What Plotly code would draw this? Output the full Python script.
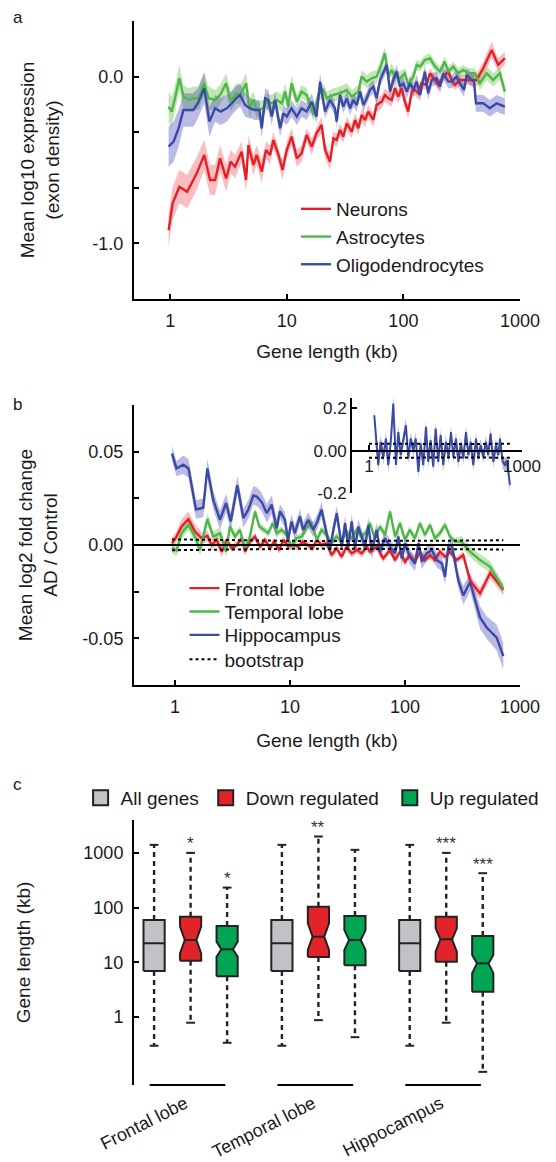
import math
import plotly.graph_objects as go

W, H = 556, 1162
FONT = "Liberation Sans, Arial, Helvetica, sans-serif"
INK = "#1a1a1a"

# ---------------- panel a : expression vs gene length ----------------
a_neu_x = [0.97, 1.05, 1.2, 1.4, 1.69, 1.96, 2.2, 2.43, 2.68, 3.02,
           3.31, 3.6, 4.1, 4.48, 4.69, 5.18, 5.53, 6.1, 6.64, 7.19,
           7.68, 8.5, 9.2, 10.0, 11.0, 12.2, 13.4, 14.8, 16.4, 18.0,
           19.9, 21.3, 23.5, 25.1, 26.8, 28.6, 30.5, 32.7, 36.1, 38.5,
           41.1, 43.9, 46.9, 50.0, 55.2, 59.0, 65.2, 69.5, 74.3, 79.4,
           84.7, 90.4, 96.7, 103, 110, 118, 126, 134, 143, 158,
           169, 187, 199, 220, 243, 259, 277, 305, 337, 372,
           425, 484, 571, 650, 742]
a_neu_y = [-0.92, -0.76, -0.66, -0.69, -0.58, -0.47, -0.62, -0.62, -0.49, -0.61,
           -0.51, -0.54, -0.45, -0.62, -0.41, -0.53, -0.47, -0.57, -0.44, -0.47,
           -0.38, -0.47, -0.56, -0.44, -0.36, -0.49, -0.46, -0.35, -0.42, -0.34,
           -0.29, -0.44, -0.51, -0.37, -0.38, -0.32, -0.36, -0.28, -0.33, -0.26,
           -0.31, -0.23, -0.26, -0.21, -0.26, -0.17, -0.15, -0.11, -0.13, -0.14,
           -0.07, -0.12, -0.07, -0.15, -0.21, -0.09, -0.08, -0.10, -0.04, -0.05,
           0.02, -0.02, -0.05, 0.0, 0.03, -0.02, -0.05, -0.02, -0.02, -0.02,
           -0.02, 0.05, 0.16, 0.07, 0.11]
a_neu_ci = [0.10, 0.10, 0.10, 0.10, 0.10, 0.09, 0.09, 0.09, 0.08, 0.08,
            0.07, 0.07, 0.06, 0.07, 0.06, 0.06, 0.06, 0.07, 0.05, 0.06,
            0.05, 0.05, 0.06, 0.05, 0.05, 0.05, 0.05, 0.04, 0.05, 0.04,
            0.05, 0.05, 0.05, 0.04, 0.04, 0.04, 0.04, 0.04, 0.04, 0.04,
            0.04, 0.04, 0.04, 0.04, 0.04, 0.04, 0.04, 0.04, 0.04, 0.04,
            0.04, 0.04, 0.04, 0.04, 0.04, 0.04, 0.03, 0.04, 0.03, 0.03,
            0.03, 0.03, 0.03, 0.03, 0.03, 0.03, 0.03, 0.03, 0.03, 0.03,
            0.04, 0.04, 0.05, 0.04, 0.04]

a_ast_x = [0.97, 1.03, 1.10, 1.20, 1.30, 1.44, 1.58, 1.75, 1.96, 2.13,
           2.43, 2.68, 3.02, 3.31, 3.68, 3.98, 4.48, 4.78, 5.18, 5.53,
           6.3, 6.74, 7.43, 8.2, 9.06, 9.7, 10.3, 11.0, 12.2, 13.4,
           14.8, 16.9, 18.7, 20.6, 22.0, 25.1, 28.6, 32.7, 36.1, 41.1,
           43.9, 48.5, 53.5, 59.0, 63.1, 69.5, 74.3, 79.4, 84.7, 93.5,
           103, 110, 122, 130, 139, 153, 169, 187, 206, 226,
           243, 268, 295, 326, 360, 408, 453, 517, 589, 672,
           742]
a_ast_y = [-0.18, -0.21, -0.13, -0.01, -0.12, -0.14, -0.13, -0.13, -0.04, -0.13,
           -0.14, -0.11, -0.04, -0.15, -0.10, -0.11, -0.04, -0.19, -0.14, -0.20,
           -0.19, -0.15, -0.16, -0.14, -0.16, -0.09, -0.18, -0.04, -0.15, -0.09,
           -0.11, -0.23, -0.11, -0.08, -0.13, -0.11, -0.10, -0.08, -0.12, -0.09,
           0.0, -0.03, -0.01, 0.0, 0.05, 0.14, 0.0, 0.04, 0.0, -0.01,
           0.02, -0.05, 0.0, 0.07, 0.06, 0.10, 0.11, 0.06, 0.03, 0.09,
           0.03, 0.06, 0.02, 0.04, 0.02, 0.02, -0.04, 0.02, -0.02, 0.02,
           -0.09]
a_ast_ci = [0.09, 0.09, 0.08, 0.08, 0.07, 0.07, 0.07, 0.07, 0.07, 0.07,
            0.06, 0.06, 0.06, 0.06, 0.06, 0.06, 0.06, 0.06, 0.05, 0.05,
            0.05, 0.05, 0.05, 0.05, 0.05, 0.05, 0.05, 0.05, 0.04, 0.04,
            0.04, 0.04, 0.04, 0.04, 0.04, 0.04, 0.04, 0.04, 0.04, 0.04,
            0.04, 0.04, 0.04, 0.04, 0.04, 0.04, 0.04, 0.04, 0.04, 0.04,
            0.03, 0.03, 0.04, 0.03, 0.03, 0.03, 0.03, 0.03, 0.03, 0.03,
            0.03, 0.03, 0.03, 0.03, 0.03, 0.03, 0.04, 0.04, 0.04, 0.04,
            0.04]

a_oli_x = [0.97, 1.07, 1.18, 1.30, 1.44, 1.58, 1.73, 1.96, 2.17, 2.43,
           2.70, 3.06, 3.38, 3.68, 3.98, 4.39, 4.85, 5.35, 5.82, 6.10,
           6.52, 6.95, 7.43, 7.94, 8.77, 9.35, 10.0, 11.0, 12.2, 13.4,
           14.8, 16.4, 18.0, 19.3, 21.3, 23.5, 25.9, 26.8, 28.6, 30.5,
           32.7, 34.9, 37.2, 39.8, 42.5, 45.4, 48.5, 51.7, 55.2, 59.0,
           63.1, 67.3, 72.0, 76.8, 81.9, 87.6, 93.5, 99.8, 107, 114,
           122, 130, 139, 153, 163, 175, 193, 206, 220, 243,
           259, 286, 305, 331, 349, 385, 404, 419, 484, 552,
           630, 742]
a_oli_y = [-0.42, -0.39, -0.31, -0.20, -0.20, -0.20, -0.16, -0.07, -0.27, -0.19,
           -0.21, -0.19, -0.16, -0.13, -0.11, -0.17, -0.19, -0.20, -0.20, -0.31,
           -0.13, -0.14, -0.24, -0.14, -0.31, -0.22, -0.24, -0.19, -0.24, -0.19,
           -0.21, -0.15, -0.24, -0.03, -0.21, -0.14, -0.19, -0.27, -0.11, -0.18,
           -0.13, -0.19, -0.14, -0.17, -0.09, -0.17, -0.13, -0.08, -0.06, -0.13,
           -0.02, 0.02, 0.07, -0.09, -0.02, 0.03, -0.06, -0.04, -0.09, -0.04,
           -0.08, -0.03, -0.11, 0.03, -0.10, -0.02, -0.01, -0.06, 0.02, -0.03,
           -0.03, 0.0, -0.04, -0.08, 0.01, -0.02, -0.03, -0.16, -0.16, -0.19,
           -0.16, -0.18]
a_oli_ci = [0.12, 0.12, 0.11, 0.10, 0.10, 0.10, 0.09, 0.09, 0.09, 0.08,
            0.08, 0.08, 0.07, 0.07, 0.07, 0.07, 0.06, 0.06, 0.06, 0.06,
            0.06, 0.06, 0.05, 0.05, 0.05, 0.05, 0.05, 0.05, 0.05, 0.05,
            0.05, 0.05, 0.04, 0.05, 0.04, 0.04, 0.04, 0.04, 0.04, 0.04,
            0.04, 0.04, 0.04, 0.04, 0.04, 0.04, 0.04, 0.04, 0.04, 0.04,
            0.04, 0.04, 0.04, 0.04, 0.04, 0.04, 0.04, 0.04, 0.04, 0.04,
            0.04, 0.04, 0.04, 0.04, 0.04, 0.04, 0.04, 0.04, 0.04, 0.04,
            0.04, 0.04, 0.04, 0.04, 0.04, 0.04, 0.04, 0.05, 0.05, 0.05,
            0.05, 0.05]

# ---------------- panel b : AD / control fold change ----------------
b_fro_x = [0.94, 1.03, 1.14, 1.31, 1.49, 1.71, 1.91, 2.08, 2.30, 2.55,
           2.81, 3.11, 3.44, 3.80, 4.06, 4.48, 4.96, 5.48, 6.06, 6.70,
           7.26, 8.07, 8.75, 9.67, 10.7, 11.8, 12.9, 14.1, 15.7, 17.1,
           18.8, 20.8, 23.0, 25.4, 28.1, 31.0, 34.4, 38.0, 42.0, 46.4,
           49.6, 56.7, 64.6, 74.1, 81.9, 90.5, 100, 110, 122, 135,
           149, 165, 182, 201, 223, 246, 281, 321, 368, 449,
           550, 716]
b_fro_y = [0.0009, 0.0045, 0.0099, 0.0139, 0.0072, 0.0036, 0.0049, 0.0, 0.0027, -0.0036,
           0.0027, -0.0018, 0.0, 0.0036, -0.0036, 0.0018, 0.0045, -0.0009, 0.0027, -0.0018,
           0.0018, -0.0027, 0.0027, -0.0009, 0.0, -0.0009, 0.0018, 0.0, -0.0018, 0.0027,
           0.0, 0.0009, -0.0054, -0.0018, -0.0063, -0.0009, -0.0045, -0.0027, -0.0045, -0.0009,
           -0.0036, -0.0009, -0.0072, -0.0027, -0.0081, -0.0036, -0.0090, -0.0054, -0.0090, -0.0036,
           -0.0081, -0.0054, -0.0081, -0.0036, -0.0063, -0.0036, -0.0081, -0.0054, -0.0190, -0.0260,
           -0.0150, -0.0240]
b_fro_ci = [0.003, 0.003, 0.004, 0.004, 0.004, 0.003, 0.003, 0.003, 0.003, 0.003,
            0.002, 0.002, 0.002, 0.002, 0.002, 0.002, 0.002, 0.002, 0.002, 0.002,
            0.002, 0.002, 0.002, 0.002, 0.002, 0.002, 0.002, 0.002, 0.002, 0.002,
            0.002, 0.002, 0.002, 0.002, 0.002, 0.002, 0.002, 0.002, 0.002, 0.002,
            0.002, 0.002, 0.002, 0.002, 0.002, 0.002, 0.002, 0.002, 0.002, 0.002,
            0.002, 0.002, 0.002, 0.002, 0.002, 0.002, 0.002, 0.002, 0.003, 0.003,
            0.003, 0.003]

b_tem_x = [0.94, 1.03, 1.14, 1.31, 1.49, 1.65, 1.91, 2.15, 2.46, 2.78,
           3.0, 3.32, 3.67, 4.06, 4.48, 4.96, 5.41, 5.86, 6.47, 7.07,
           7.65, 8.46, 9.35, 10.3, 11.4, 12.6, 13.9, 15.4, 17.1, 18.8,
           20.8, 23.0, 25.4, 28.1, 31.0, 34.4, 38.0, 42.0, 46.4, 49.6,
           54.6, 60.6, 67.0, 74.1, 81.9, 90.5, 100, 110, 122, 135,
           149, 165, 182, 201, 223, 246, 272, 310, 368, 449,
           550, 716]
b_tem_y = [-0.0015, -0.0030, 0.0063, 0.0108, 0.0045, -0.0027, 0.0139, 0.0045, 0.0063, -0.0036,
           0.0099, 0.0045, 0.0081, -0.0018, 0.0045, 0.0180, 0.0099, 0.0081, 0.0063, 0.0117,
           0.0063, 0.0081, 0.0054, -0.0009, 0.0036, 0.0045, 0.0090, 0.0117, 0.0027, 0.0081,
           0.0054, 0.0009, 0.0045, 0.0018, 0.0072, 0.0036, 0.0081, 0.0045, 0.0072, 0.0117,
           0.0036, 0.0099, 0.0054, 0.0180, 0.0045, 0.0117, 0.0027, 0.0081, 0.0036, 0.0117,
           0.0054, 0.0108, 0.0036, 0.0063, 0.0108, 0.0045, 0.0018, 0.0018, -0.0036, -0.0081,
           -0.0117, -0.0234]
b_tem_ci = [0.003, 0.003, 0.003, 0.003, 0.003, 0.003, 0.003, 0.003, 0.003, 0.003,
            0.002, 0.002, 0.002, 0.002, 0.002, 0.002, 0.002, 0.002, 0.002, 0.002,
            0.002, 0.002, 0.002, 0.002, 0.002, 0.002, 0.002, 0.002, 0.002, 0.002,
            0.002, 0.002, 0.002, 0.002, 0.002, 0.002, 0.002, 0.002, 0.002, 0.002,
            0.002, 0.002, 0.002, 0.002, 0.002, 0.002, 0.002, 0.002, 0.002, 0.002,
            0.002, 0.002, 0.002, 0.002, 0.002, 0.002, 0.002, 0.003, 0.003, 0.003,
            0.003, 0.003]

b_hip_x = [0.94, 1.03, 1.18, 1.31, 1.52, 1.76, 1.91, 2.15, 2.46, 2.78,
           3.05, 3.48, 3.93, 4.34, 4.79, 5.13, 5.67, 6.28, 6.93, 7.65,
           8.17, 9.03, 9.6, 10.3, 11.0, 12.2, 13.0, 14.4, 15.9, 17.3,
           18.8, 20.8, 22.3, 23.8, 25.5, 28.2, 30.1, 32.1, 34.4, 36.7,
           39.3, 42.0, 44.9, 48.0, 51.3, 56.7, 60.6, 67.0, 74.1, 81.9,
           87.5, 93.6, 100, 110, 122, 131, 140, 154, 171, 189,
           209, 223, 238, 255, 272, 291, 321, 368, 449, 513,
           627, 716]
b_hip_y = [0.049, 0.041, 0.043, 0.041, 0.019, 0.020, 0.041, 0.024, 0.0135, 0.0225,
           0.0126, 0.032, 0.0144, 0.019, 0.0265, 0.026, 0.023, 0.017, 0.0216, 0.009,
           0.018, 0.0135, 0.0027, 0.0126, 0.0063, 0.0153, 0.0081, 0.0135, 0.0081, 0.0126,
           0.019, 0.0063, -0.0027, 0.0081, 0.017, -0.0009, 0.0117, -0.001, 0.0126, -0.0018,
           0.0099, 0.0045, -0.0009, 0.0108, -0.0036, 0.0081, -0.0036, 0.0036, -0.0009, -0.0045,
           0.0045, -0.0072, 0.0009, -0.0063, -0.0099, 0.0009, -0.009, -0.0045, -0.0027, -0.0081,
           -0.0099, -0.0171, -0.0009, 0.0, -0.0099, -0.019, -0.027, -0.0198, -0.0388, -0.0442,
           -0.0496, -0.0595]
b_hip_ci = [0.004, 0.004, 0.005, 0.005, 0.005, 0.005, 0.005, 0.005, 0.005, 0.005,
            0.005, 0.005, 0.005, 0.005, 0.005, 0.005, 0.005, 0.005, 0.005, 0.005,
            0.004, 0.004, 0.004, 0.004, 0.004, 0.004, 0.004, 0.004, 0.004, 0.004,
            0.004, 0.004, 0.004, 0.004, 0.004, 0.004, 0.004, 0.004, 0.004, 0.004,
            0.004, 0.004, 0.004, 0.004, 0.004, 0.004, 0.004, 0.004, 0.004, 0.004,
            0.004, 0.004, 0.004, 0.004, 0.004, 0.004, 0.004, 0.004, 0.004, 0.004,
            0.004, 0.004, 0.004, 0.004, 0.004, 0.004, 0.005, 0.005, 0.006, 0.006,
            0.007, 0.007]

b_boot_x = [0.94, 1.5, 2.5, 4, 7, 12, 20, 35, 60, 100, 170, 300, 500, 716]
b_boot_hi = [0.0030, 0.0028, 0.0025, 0.0024, 0.0022, 0.0022, 0.0021,
             0.0021, 0.0021, 0.0022, 0.0022, 0.0023, 0.0024, 0.0026]
b_boot_lo = [-0.0028, -0.0026, -0.0024, -0.0022, -0.0021, -0.0020, -0.0020,
             -0.0020, -0.0020, -0.0021, -0.0021, -0.0022, -0.0023, -0.0025]

# inset (hippocampus, finer scale)
in_x = [1.27, 1.52, 1.69, 1.91, 2.15, 2.39, 2.66, 3.0, 3.38, 3.76,
        4.18, 4.7, 5.3, 5.9, 6.56, 7.4, 8.25, 9.3, 10.3, 11.6,
        13.1, 14.5, 16.2, 18.2, 20.3, 22.8, 25.4, 28.6, 32.1, 36.4,
        40.5, 45.1, 50.8, 56.5, 63.6, 70.7, 79.8, 88.7, 98.7, 111,
        125, 139, 155, 174, 196, 218, 242, 274, 308, 343,
        370, 418, 464, 515, 580]
in_y = [0.167, -0.068, 0.041, -0.029, 0.057, -0.068, 0.034, 0.222, -0.068, 0.088,
        -0.021, 0.049, 0.12, -0.037, 0.057, 0.0, 0.057, -0.1, 0.034, -0.068,
        0.112, -0.053, 0.049, -0.076, 0.104, -0.053, 0.073, -0.068, 0.041, -0.029,
        0.088, -0.029, 0.057, -0.053, 0.034, -0.037, 0.088, -0.021, 0.041, -0.068,
        0.057, -0.029, 0.026, -0.029, 0.041, -0.021, 0.081, -0.053, 0.026, -0.021,
        0.057, -0.053, -0.068, -0.06, -0.162]
in_ci = [0.035, 0.035, 0.035, 0.035, 0.035, 0.035, 0.035, 0.04, 0.035, 0.035,
         0.03, 0.03, 0.035, 0.03, 0.03, 0.03, 0.03, 0.035, 0.03, 0.03,
         0.03, 0.03, 0.03, 0.03, 0.03, 0.03, 0.03, 0.03, 0.03, 0.03,
         0.03, 0.03, 0.03, 0.03, 0.03, 0.03, 0.03, 0.03, 0.03, 0.03,
         0.03, 0.03, 0.03, 0.03, 0.03, 0.03, 0.03, 0.03, 0.03, 0.03,
         0.03, 0.03, 0.035, 0.035, 0.04]
in_boot_x = [1.0, 10, 100, 580]
in_boot_hi = [0.033, 0.031, 0.031, 0.033]
in_boot_lo = [-0.034, -0.032, -0.032, -0.034]

# ---------------- panel c : gene length boxplots ----------------
c_regions = ["Frontal lobe", "Temporal lobe", "Hippocampus"]
c_groups = ["All genes", "Down regulated", "Up regulated"]
c_lo = {"All genes": [0.30, 0.30, 0.30], "Down regulated": [0.79, 0.88, 0.79], "Up regulated": [0.34, 0.43, 0.10]}
c_q1 = {"All genes": [6.95, 6.95, 6.95], "Down regulated": [10.7, 12.5, 10.3], "Up regulated": [5.6, 8.9, 2.9]}
c_med = {"All genes": [22.3, 22.3, 22.3], "Down regulated": [25.6, 29.4, 26.4], "Up regulated": [17.3, 25.6, 9.6]}
c_q3 = {"All genes": [59.6, 59.6, 59.6], "Down regulated": [68.4, 104, 68.4], "Up regulated": [46.2, 70.4, 30.3]}
c_hi = {"All genes": [1400, 1400, 1400], "Down regulated": [1000, 1990, 1000], "Up regulated": [232, 1135, 425]}
c_nlo = {"All genes": [22.3, 22.3, 22.3], "Down regulated": [14.6, 16.8, 15.7], "Up regulated": [12.6, 16.8, 6.3]}
c_nhi = {"All genes": [22.3, 22.3, 22.3], "Down regulated": [44.9, 51.8, 41.9], "Up regulated": [23.9, 39.0, 13.6]}
c_stars = {"All genes": ["", "", ""], "Down regulated": ["*", "**", "***"], "Up regulated": ["*", "", "***"]}

# ---------------- styling ----------------
RED, GREEN, BLUE = "#E41F26", "#4DB847", "#3A4BA6"
RED_F, GREEN_F, BLUE_F = "rgba(240,70,75,0.35)", "rgba(95,190,65,0.38)", "rgba(75,70,190,0.38)"
BOX_FILL = {"All genes": "#C2C2C6", "Down regulated": "#E0242A", "Up regulated": "#00A651"}
NOTCH_DEPTH = {"All genes": 0.0, "Down regulated": 0.45, "Up regulated": 0.45}


def py(p):
    return 1 - p / H


def pxr(p):
    return p / W


fig = go.Figure()


def add_band(x, y, ci, fill, xa, ya):
    hi = [v + c for v, c in zip(y, ci)]
    lo = [v - c for v, c in zip(y, ci)]
    fig.add_trace(go.Scatter(x=list(x) + list(x)[::-1], y=hi + lo[::-1], fill="toself",
                             fillcolor=fill, line=dict(width=0), mode="lines",
                             hoverinfo="skip", showlegend=False, xaxis=xa, yaxis=ya))


def add_line(x, y, color, name, xa, ya, legend, showlegend=True):
    fig.add_trace(go.Scatter(x=x, y=y, mode="lines", line=dict(color=color, width=2.4),
                             name=name, xaxis=xa, yaxis=ya, legend=legend,
                             legendgroup=name, showlegend=showlegend))


# panel a
add_band(a_neu_x, a_neu_y, a_neu_ci, RED_F, "x", "y")
add_band(a_ast_x, a_ast_y, a_ast_ci, GREEN_F, "x", "y")
add_band(a_oli_x, a_oli_y, a_oli_ci, BLUE_F, "x", "y")
add_line(a_neu_x, a_neu_y, RED, "Neurons", "x", "y", "legend")
add_line(a_ast_x, a_ast_y, GREEN, "Astrocytes", "x", "y", "legend")
add_line(a_oli_x, a_oli_y, BLUE, "Oligodendrocytes", "x", "y", "legend")

# panel b
add_band(b_fro_x, b_fro_y, b_fro_ci, RED_F, "x2", "y2")
add_band(b_tem_x, b_tem_y, b_tem_ci, GREEN_F, "x2", "y2")
add_band(b_hip_x, b_hip_y, b_hip_ci, BLUE_F, "x2", "y2")
add_line(b_fro_x, b_fro_y, RED, "Frontal lobe", "x2", "y2", "legend2")
add_line(b_tem_x, b_tem_y, GREEN, "Temporal lobe", "x2", "y2", "legend6")
add_line(b_hip_x, b_hip_y, BLUE, "Hippocampus", "x2", "y2", "legend7")
for arr, show in ((b_boot_hi, True), (b_boot_lo, False)):
    fig.add_trace(go.Scatter(x=b_boot_x, y=arr, mode="lines", name="bootstrap",
                             line=dict(color="black", width=2, dash="dot"),
                             xaxis="x2", yaxis="y2", legend="legend8",
                             legendgroup="bootstrap", showlegend=show))

# inset
add_band(in_x, in_y, in_ci, BLUE_F, "x4", "y4")
fig.add_trace(go.Scatter(x=in_x, y=in_y, mode="lines", line=dict(color=BLUE, width=2),
                         showlegend=False, xaxis="x4", yaxis="y4"))
for arr in (in_boot_hi, in_boot_lo):
    fig.add_trace(go.Scatter(x=in_boot_x, y=arr, mode="lines", showlegend=False,
                             line=dict(color="black", width=2, dash="dot"),
                             xaxis="x4", yaxis="y4"))

# panel c boxes
HALF_W = 0.29
CAP_W = 0.12
GROUP_STEP = 3.5
for gi, g in enumerate(c_groups):
    wx, wy, cx, cy, mx, my = [], [], [], [], [], []
    for ri, r in enumerate(c_regions):
        c = ri * GROUP_STEP + gi
        d = NOTCH_DEPTH[g]
        q1, med, q3 = c_q1[g][ri], c_med[g][ri], c_q3[g][ri]
        nlo, nhi = c_nlo[g][ri], c_nhi[g][ri]
        xs = [c - HALF_W, c - HALF_W, c - HALF_W * (1 - d), c - HALF_W, c - HALF_W,
              c + HALF_W, c + HALF_W, c + HALF_W * (1 - d), c + HALF_W, c + HALF_W, c - HALF_W]
        ys = [q1, nlo, med, nhi, q3, q3, nhi, med, nlo, q1, q1]
        fig.add_trace(go.Scatter(x=xs, y=ys, mode="lines", fill="toself",
                                 fillcolor=BOX_FILL[g], line=dict(color="#222222", width=2),
                                 showlegend=False, hoverinfo="skip", xaxis="x3", yaxis="y3"))
        mx += [c - HALF_W * (1 - d), c + HALF_W * (1 - d), None]
        my += [med, med, None]
        wx += [c, c, None, c, c, None]
        wy += [q3, c_hi[g][ri], None, q1, c_lo[g][ri], None]
        cx += [c - CAP_W, c + CAP_W, None, c - CAP_W, c + CAP_W, None]
        cy += [c_hi[g][ri], c_hi[g][ri], None, c_lo[g][ri], c_lo[g][ri], None]
        if c_stars[g][ri]:
            fig.add_annotation(x=c, y=math.log10(c_hi[g][ri]), xref="x3", yref="y3",
                               text=c_stars[g][ri], showarrow=False, yanchor="middle",
                               yshift=9, font=dict(size=17, color="#333333", family=FONT))
    fig.add_trace(go.Scatter(x=mx, y=my, mode="lines", line=dict(color="#222222", width=2),
                             showlegend=False, hoverinfo="skip", xaxis="x3", yaxis="y3"))
    fig.add_trace(go.Scatter(x=wx, y=wy, mode="lines",
                             line=dict(color="#222222", width=2.4, dash="5px,4px"),
                             showlegend=False, hoverinfo="skip", xaxis="x3", yaxis="y3"))
    fig.add_trace(go.Scatter(x=cx, y=cy, mode="lines", line=dict(color="#222222", width=2),
                             showlegend=False, hoverinfo="skip", xaxis="x3", yaxis="y3"))
    # legend entry
    fig.add_trace(go.Scatter(x=[None], y=[None], mode="markers", name=g,
                             marker=dict(symbol="square", size=15, color=BOX_FILL[g],
                                         line=dict(color="#222222", width=2)),
                             xaxis="x3", yaxis="y3", legend="legend%d" % (gi + 3)))

# group underlines
for ri in range(len(c_regions)):
    base = ri * GROUP_STEP
    fig.add_shape(type="line", xref="x3", yref="y3 domain", x0=base - 0.12, x1=base + 1.95,
                  y0=0, y1=0, line=dict(color="black", width=2))

# zero line in panel b
fig.add_shape(type="line", xref="x2 domain", yref="y2", x0=0, x1=1, y0=0, y1=0,
              line=dict(color="black", width=2.2), layer="above")

# panel letters
for letter, yy in (("a", 17), ("b", 405), ("c", 784)):
    fig.add_annotation(x=pxr(17.5), y=py(yy), xref="paper", yref="paper", text=letter,
                       showarrow=False, xanchor="center", yanchor="middle",
                       font=dict(size=17, color=INK, family=FONT))

axis_common = dict(showline=True, linecolor="black", linewidth=2, ticks="inside",
                   ticklen=5, tickwidth=2, tickcolor="black", showgrid=False,
                   zeroline=False, automargin=False,
                   tickfont=dict(size=18, color=INK, family=FONT))
title_font = dict(size=19, color=INK, family=FONT)
XDOM = [pxr(134), pxr(520)]
leg_common = dict(xanchor="left", yanchor="top", bgcolor="rgba(0,0,0,0)",
                  font=dict(size=19, color=INK, family=FONT))

fig.update_layout(
    width=W, height=H, margin=dict(l=0, r=0, t=0, b=0),
    paper_bgcolor="white", plot_bgcolor="white",
    font=dict(family=FONT, color=INK),
    xaxis=dict(axis_common, type="log", range=[-0.31, 3.0], domain=XDOM, anchor="y",
               tickvals=[1, 10, 100, 1000], ticktext=["1", "10", "100", "1000"],
               ticklabelstandoff=4,
               title=dict(text="Gene length (kb)", font=title_font, standoff=15)),
    yaxis=dict(axis_common, range=[-1.3333, 0.3333], domain=[py(299), py(21)], anchor="x",
               tickvals=[-1, -0.6667, -0.3333, 0, 0.3333], ticktext=["-1.0", "", "", "0.0", ""],
               ticklabelstandoff=5,
               title=dict(text="Mean log10 expression<br>(exon density)", font=title_font, standoff=28)),
    xaxis2=dict(axis_common, type="log", range=[-0.357, 3.0], domain=XDOM, anchor="y2",
                tickvals=[1, 10, 100, 1000], ticktext=["1", "10", "100", "1000"],
                ticklabelstandoff=4,
                title=dict(text="Gene length (kb)", font=title_font, standoff=18)),
    yaxis2=dict(axis_common, range=[-0.075, 0.075], domain=[py(685), py(405)], anchor="x2",
                tickvals=[-0.05, -0.025, 0, 0.025, 0.05, 0.075],
                ticktext=["-0.05", "", "0.00", "", "0.05", ""],
                ticklabelstandoff=5,
                title=dict(text="Mean log2 fold change<br>AD / Control", font=title_font, standoff=20)),
    xaxis3=dict(range=[-0.55, 10.02], domain=XDOM, anchor="y3", showline=False, ticks="",
                showgrid=False, zeroline=False, automargin=False,
                tickvals=[ri * GROUP_STEP + 0.85 for ri in range(len(c_regions))],
                ticktext=c_regions, tickangle=-27, ticklabelstandoff=4,
                tickfont=dict(size=18, color=INK, family=FONT)),
    yaxis3=dict(axis_common, type="log", range=[-1.24, 3.6], domain=[py(1085), py(820)],
                anchor="x3", tickvals=[1, 10, 100, 1000], ticktext=["1", "10", "100", "1000"],
                ticklabelstandoff=5,
                title=dict(text="Gene length (kb)", font=title_font, standoff=48)),
    xaxis4=dict(axis_common, type="log", range=[-0.333, 3.0], domain=[pxr(352), pxr(522)],
                anchor="free", position=py(450.5), tickvals=[1, 1000], ticktext=["1", "1000"],
                tickfont=dict(size=17, color=INK, family=FONT)),
    yaxis4=dict(axis_common, range=[-0.2, 0.25], domain=[py(493), py(397.7)], anchor="x4",
                tickvals=[-0.2, 0, 0.2], ticktext=["-0.2", "0.00", "0.2"],
                tickfont=dict(size=17, color=INK, family=FONT)),
    legend=dict(leg_common, x=pxr(296), y=py(190), tracegroupgap=0),
    legend2=dict(leg_common, x=pxr(184.5), y=py(569.3)),
    legend6=dict(leg_common, x=pxr(184.5), y=py(592.7)),
    legend7=dict(leg_common, x=pxr(184.5), y=py(616)),
    legend8=dict(leg_common, x=pxr(184.5), y=py(640.3)),
    legend3=dict(leg_common, x=pxr(80.6), y=py(779), orientation="h"),
    legend4=dict(leg_common, x=pxr(205.7), y=py(779), orientation="h"),
    legend5=dict(leg_common, x=pxr(389.8), y=py(779), orientation="h"),
)

fig.write_html("out.html", config={"displayModeBar": False},
               post_script="document.body.style.margin='0px';")
